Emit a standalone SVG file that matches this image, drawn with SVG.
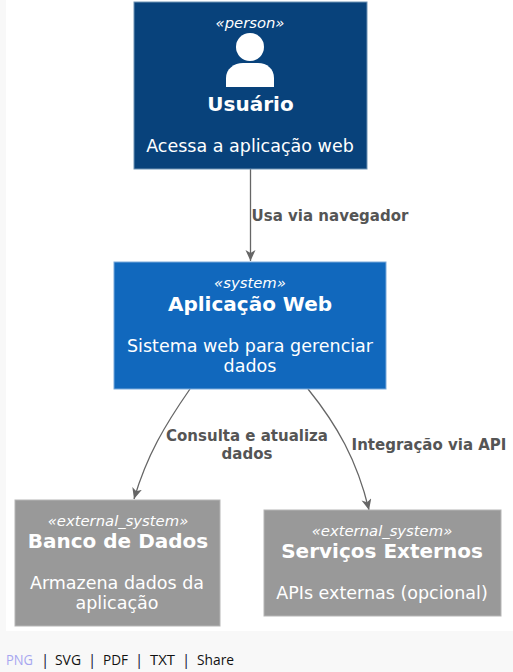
<svg xmlns="http://www.w3.org/2000/svg" width="513" height="672" viewBox="0 0 513 672">
<style>
text{font-family:"DejaVu Sans",sans-serif;text-anchor:middle;fill:#fff}
.st{font-size:14.8px;font-style:italic}
.ti{font-size:20px;font-weight:bold}
.de{font-size:17.5px}
.lb{font-size:15px;font-weight:bold;fill:#555}
.c{fill:none;stroke:#666;stroke-width:1.3}
.nav{font-family:"Open Sans","Liberation Sans",sans-serif;font-size:15px;text-anchor:start;fill:#111}
</style>
<defs><marker id="a" markerUnits="userSpaceOnUse" markerWidth="14" markerHeight="14" refX="11" refY="5" orient="auto"><path d="M0 0L11 5L0 10L3 5Z" fill="#666"/></marker></defs>
<rect width="513" height="672" fill="#f8f8f8"/>
<rect x="6" y="0" width="507" height="631" fill="#fff"/>
<g id="connectors">
<path class="c" d="M250.5 169V261" marker-end="url(#a)"/>
<path class="c" d="M190 389C165 425 147 455 134 499" marker-end="url(#a)"/>
<path class="c" d="M308 389C337 425 357 460 369 510" marker-end="url(#a)"/>
</g>
<g id="labels">
<text class="lb" x="330" y="220.500">Usa via navegador</text>
<text class="lb" x="247" y="440.500">Consulta e atualiza</text>
<text class="lb" x="247" y="458.500">dados</text>
<text class="lb" x="429" y="449.500">Integração via API</text>
</g>
<g id="usuario">
<rect x="134" y="2" width="233" height="167" fill="#08427b" stroke="#6f93b5"/>
<text class="st" x="250" y="28">«person»</text>
<circle cx="250" cy="47" r="14" fill="#fff"/>
<path d="M226 87V78C226 69 234 63 243 63H258C267 63 274 69 274 78V87Z" fill="#fff"/>
<text class="ti" x="250.500" y="111">Usuário</text>
<text class="de" x="250" y="152">Acessa a aplicação web</text>
</g>
<g id="aplicacao">
<rect x="114" y="262" width="272" height="127" fill="#1168bd" stroke="#7aaadb"/>
<text class="st" x="250" y="288">«system»</text>
<text class="ti" x="250" y="311">Aplicação Web</text>
<text class="de" x="250" y="352">Sistema web para gerenciar</text>
<text class="de" x="250" y="372">dados</text>
</g>
<g id="banco">
<rect x="15" y="500" width="205" height="126" fill="#999" stroke="#b5b5b5"/>
<text class="st" x="118" y="526">«external_system»</text>
<text class="ti" x="118" y="548">Banco de Dados</text>
<text class="de" x="117" y="589">Armazena dados da</text>
<text class="de" x="117" y="609">aplicação</text>
</g>
<g id="servicos">
<rect x="264" y="510" width="237" height="106" fill="#999" stroke="#b5b5b5"/>
<text class="st" x="382" y="536">«external_system»</text>
<text class="ti" x="382" y="558">Serviços Externos</text>
<text class="de" x="382" y="599">APIs externas (opcional)</text>
</g>
<g id="nav">
<text class="nav" x="6" y="665" style="fill:#a6a6f0" textLength="27" lengthAdjust="spacingAndGlyphs">PNG</text>
<text class="nav" x="41" y="665" style="fill:#113">|</text>
<text class="nav" x="55" y="665" textLength="26" lengthAdjust="spacingAndGlyphs">SVG</text>
<text class="nav" x="88" y="665" style="fill:#113">|</text>
<text class="nav" x="103" y="665" textLength="25" lengthAdjust="spacingAndGlyphs">PDF</text>
<text class="nav" x="135" y="665" style="fill:#113">|</text>
<text class="nav" x="150" y="665" textLength="25" lengthAdjust="spacingAndGlyphs">TXT</text>
<text class="nav" x="182" y="665" style="fill:#113">|</text>
<text class="nav" x="197" y="665" textLength="37" lengthAdjust="spacingAndGlyphs">Share</text>
</g>
</svg>
